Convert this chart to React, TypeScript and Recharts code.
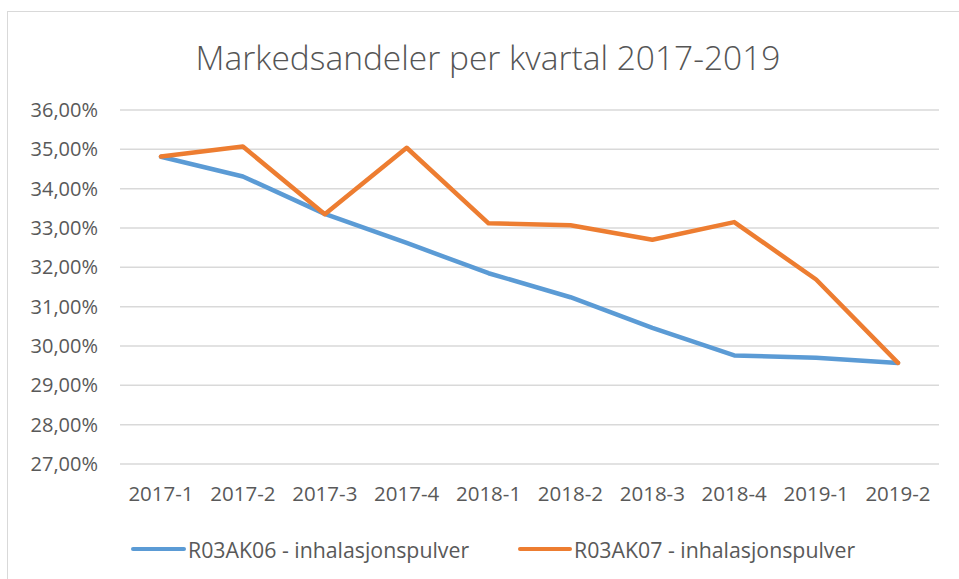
import React from 'react';
import { LineChart, Line, XAxis, YAxis, CartesianGrid } from 'recharts';

const categories = ['2017-1', '2017-2', '2017-3', '2017-4', '2018-1', '2018-2', '2018-3', '2018-4', '2019-1', '2019-2'];
const seriesA = [34.81, 34.31, 33.36, 32.62, 31.85, 31.24, 30.46, 29.76, 29.7, 29.57];
const seriesB = [34.82, 35.07, 33.35, 35.04, 33.12, 33.07, 32.7, 33.15, 31.69, 29.57];
const yTicks = [27, 28, 29, 30, 31, 32, 33, 34, 35, 36];
const nameA = 'R03AK06 - inhalasjonspulver';
const nameB = 'R03AK07 - inhalasjonspulver';
const title = 'Markedsandeler per kvartal 2017-2019';

const data = categories.map((c, i) => ({ cat: c, a: seriesA[i], b: seriesB[i] }));

const FONT = '"Open Sans", "Noto Sans", sans-serif';
const TEXT = '#595959';
const BLUE = '#5b9bd5';
const ORANGE = '#ed7d31';

const fmt = (v: number) => `${v.toFixed(2).replace('.', ',')}%`;

export default function App() {
  return (
    <div style={{ position: 'absolute', left: 0, top: 0, width: 959, height: 579, background: '#fff', fontFamily: FONT, overflow: 'hidden' }}>
      <div style={{ position: 'absolute', left: 7, top: 11, width: 960, height: 600, border: '1.5px solid #d9d9d9', boxSizing: 'border-box' }} />
      <div style={{ position: 'absolute', left: 0, top: 34, width: 976, textAlign: 'center', fontSize: 33.5, fontWeight: 300, color: '#555', lineHeight: '46px' }}>
        {title}
      </div>
      <div style={{ position: 'absolute', top: 0, left: 0 }}>
        <LineChart width={959} height={579} data={data} margin={{ top: 110, right: 20, left: 0, bottom: 75 }}>
          <CartesianGrid vertical={false} stroke="#d9d9d9" strokeWidth={1.5} />
          <XAxis
            dataKey="cat"
            axisLine={false}
            tickLine={false}
            tickSize={0}
            tickMargin={22}
            height={40}
            padding={{ left: 41, right: 41 }}
            tick={{ fill: TEXT, fontSize: 20.5, fontFamily: FONT }}
            interval={0}
          />
          <YAxis
            domain={[27, 36]}
            ticks={yTicks}
            tickFormatter={fmt}
            axisLine={false}
            tickLine={false}
            tickSize={0}
            tickMargin={22}
            width={120}
            tick={{ fill: TEXT, fontSize: 20, fontFamily: FONT }}
          />
          <Line type="linear" dataKey="a" name={nameA} stroke={BLUE} strokeWidth={4.5} dot={false} isAnimationActive={false} strokeLinejoin="round" strokeLinecap="round" />
          <Line type="linear" dataKey="b" name={nameB} stroke={ORANGE} strokeWidth={4.5} dot={false} isAnimationActive={false} strokeLinejoin="round" strokeLinecap="round" />
        </LineChart>
      </div>
      <div style={{ position: 'absolute', left: 131, top: 535, height: 28, display: 'flex', alignItems: 'center', fontSize: 21.3, color: TEXT }}>
        <span style={{ display: 'inline-block', width: 55, height: 4, background: BLUE, borderRadius: 2, marginRight: 2 }} />
        <span>{nameA}</span>
      </div>
      <div style={{ position: 'absolute', left: 518, top: 535, height: 28, display: 'flex', alignItems: 'center', fontSize: 21.3, color: TEXT }}>
        <span style={{ display: 'inline-block', width: 54, height: 4, background: ORANGE, borderRadius: 2, marginRight: 2 }} />
        <span>{nameB}</span>
      </div>
    </div>
  );
}
